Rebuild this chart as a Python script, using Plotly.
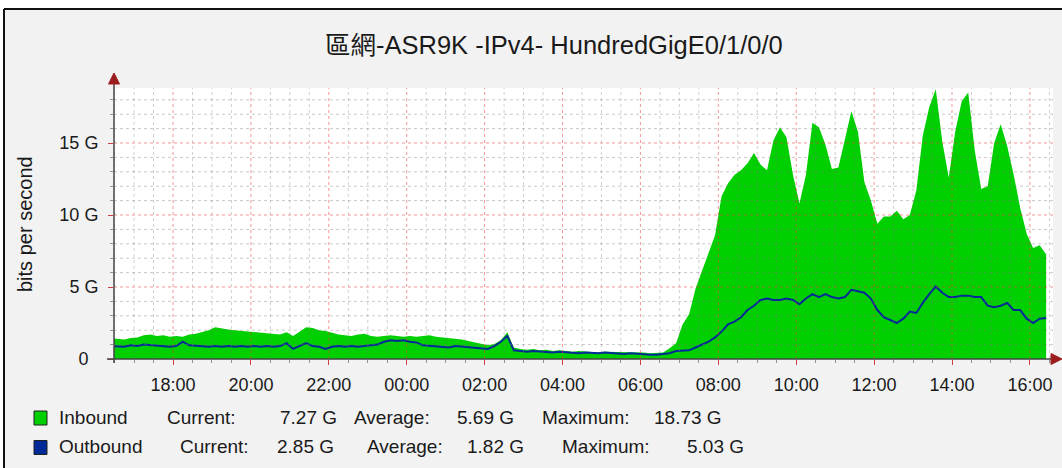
import pandas as pd
import plotly.graph_objects as go

TITLE = "區網-ASR9K -IPv4- HundredGigE0/1/0/0"
Y_TITLE = "bits per second"

sample_start = "2024-01-01 16:25"
sample_count = 145
sample_step = "10min"

inbound_g = [
    1.45, 1.4, 1.35, 1.45, 1.5, 1.65, 1.7, 1.6, 1.65, 1.55,
    1.6, 1.55, 1.7, 1.75, 1.85, 2.0,
    2.2, 2.1, 2.05, 2.0, 1.95, 1.9,
    1.85, 1.8, 1.8, 1.75, 1.7, 1.85,
    1.6, 1.9, 2.2, 2.15, 2.0, 1.95,
    1.8, 1.7, 1.65, 1.6, 1.7, 1.75, 1.6, 1.55, 1.6, 1.65, 1.6, 1.55,
    1.6, 1.55, 1.6, 1.65, 1.55, 1.5, 1.5, 1.45, 1.35, 1.25, 1.15, 1.05,
    0.95, 1.05, 1.3, 1.85, 0.8,
    0.7, 0.65, 0.7, 0.6, 0.65, 0.55, 0.6, 0.55, 0.5, 0.55, 0.5, 0.5, 0.45, 0.5, 0.5, 0.45, 0.5, 0.45, 0.45,
    0.45, 0.4, 0.4, 0.45, 0.75,
    1.1, 2.4, 3.1, 4.9, 6.1, 7.4, 8.6,
    11.3, 12.2, 12.8, 13.1, 13.6, 14.3, 13.5, 13.1, 15.2, 16.1, 15.4, 12.8,
    10.8, 12.8, 16.4, 16.1, 14.9, 13.2, 13.3, 15.2, 17.2, 15.8, 12.3, 11.0,
    9.4, 9.9, 9.9, 10.3, 9.7, 10.0, 11.7, 15.5, 17.5, 18.73, 15.1, 12.6,
    15.8, 17.9, 18.5, 14.5, 11.8, 12.0, 15.0, 16.3, 14.8, 12.8, 10.5, 8.7, 7.7, 7.9, 7.27,
]

outbound_g = [
    0.9, 0.85, 0.85, 0.95, 0.9, 1.0, 0.95, 0.9, 0.85, 0.85,
    0.9, 1.2, 0.95, 0.9, 0.85, 0.85, 0.9, 0.85, 0.9, 0.85, 0.9, 0.85,
    0.9, 0.85, 0.9, 0.85, 0.9, 1.1, 0.7, 0.9, 1.1, 0.9, 0.85, 0.7,
    0.85, 0.9, 0.85, 0.9, 0.85, 0.9, 0.95, 1.0, 1.2, 1.3, 1.25, 1.3,
    1.2, 1.15, 0.95, 0.9, 0.85, 0.85, 0.8, 0.9, 0.85, 0.8, 0.75, 0.7,
    0.7, 0.9, 1.2, 1.6, 0.6,
    0.55, 0.5, 0.55, 0.5, 0.5, 0.45, 0.5, 0.45, 0.45, 0.4, 0.45, 0.4, 0.4, 0.45, 0.4, 0.4, 0.35, 0.4, 0.35,
    0.35, 0.3, 0.3, 0.35, 0.4,
    0.55, 0.55, 0.6, 0.8, 1.0, 1.2, 1.5,
    1.9, 2.4, 2.6, 2.9, 3.4, 3.7, 4.1, 4.2, 4.1, 4.1, 4.2, 4.1,
    3.8, 4.2, 4.5, 4.3, 4.5, 4.3, 4.2, 4.3, 4.8, 4.7, 4.6, 4.2,
    3.4, 2.9, 2.7, 2.5, 2.8, 3.3, 3.2, 3.9, 4.5, 5.03, 4.6, 4.3,
    4.3, 4.4, 4.4, 4.3, 4.3, 3.7, 3.6, 3.7, 3.9, 3.4, 3.4, 2.8, 2.5, 2.8, 2.85,
]

y_tick_vals = [0, 5, 10, 15]
y_tick_text = ["0\u00a0\u00a0", "5 G", "10 G", "15 G"]
y_max = 18.82

x_range = ["2024-01-01 16:29:05", "2024-01-02 16:35:35"]
x_major_tick0 = "2024-01-01 18:00"

legend_names = ["Inbound", "Outbound"]
legend_current = ["7.27 G", "2.85 G"]
legend_average = ["5.69 G", "1.82 G"]
legend_maximum = ["18.73 G", "5.03 G"]

IN_COLOR = "#00CF00"
OUT_COLOR = "#002A97"
BG = "#f2f2f2"
FONT = "Liberation Sans, Arial, Noto Sans CJK TC, sans-serif"
TXT = "#1a1a1a"

times = pd.date_range(sample_start, periods=sample_count, freq=sample_step)

W, H = 1062, 468
L, R, T, B = 114, 9, 88, 109
PW, PH = W - L - R, H - T - B


def px(x):
    return (x - L) / PW


def py(y):
    return (H - B - y) / PH


fig = go.Figure()
fig.add_trace(go.Scatter(x=times, y=inbound_g, mode="lines",
                         line=dict(width=0, color=IN_COLOR),
                         fill="tozeroy", fillcolor=IN_COLOR, hoverinfo="skip"))
fig.add_trace(go.Scatter(x=times, y=outbound_g, mode="lines",
                         line=dict(width=2, color=OUT_COLOR), hoverinfo="skip"))

shapes = []
# white outer strips and black frame
shapes.append(dict(type="rect", xref="paper", yref="paper", x0=px(-10), x1=px(1080),
                   y0=py(8.5), y1=py(-10), fillcolor="white", line=dict(width=0), layer="above"))
shapes.append(dict(type="rect", xref="paper", yref="paper", x0=px(-10), x1=px(3.5),
                   y0=py(490), y1=py(-10), fillcolor="white", line=dict(width=0), layer="above"))
shapes.append(dict(type="line", xref="paper", yref="paper", x0=px(4), x1=px(1080),
                   y0=py(9), y1=py(9), line=dict(color="#111", width=2), layer="above"))
shapes.append(dict(type="line", xref="paper", yref="paper", x0=px(4), x1=px(4),
                   y0=py(9), y1=py(490), line=dict(color="#111", width=2), layer="above"))

# grid (drawn over the area, like rrdtool)
for t in pd.date_range("2024-01-01 16:30", "2024-01-02 16:30", freq="30min"):
    major = t.minute == 0 and t.hour % 2 == 0
    shapes.append(dict(type="line", xref="x", yref="paper", x0=t, x1=t, y0=0, y1=1,
                       line=dict(color="rgba(235,60,60,0.55)" if major else "rgba(120,120,120,0.35)",
                                 width=1, dash="dot"), layer="above"))
for g in range(1, 19):
    major = g % 5 == 0
    shapes.append(dict(type="line", xref="paper", yref="y", x0=0, x1=1, y0=g, y1=g,
                       line=dict(color="rgba(235,60,60,0.55)" if major else "rgba(120,120,120,0.4)",
                                 width=1, dash="dot"), layer="above"))

# axis lines and arrows
shapes.append(dict(type="line", xref="paper", yref="paper", x0=0, x1=0, y0=py(363), y1=py(83),
                   line=dict(color="#444", width=1.5), layer="above"))
shapes.append(dict(type="line", xref="paper", yref="paper", x0=px(107), x1=px(1053), y0=0, y1=0,
                   line=dict(color="#444", width=1.5), layer="above"))
ARROW = "#9a1c1c"
shapes.append(dict(type="path", xref="paper", yref="paper",
                   path=f"M {px(114)} {py(73)} L {px(108.5)} {py(84)} L {px(119.5)} {py(84)} Z",
                   fillcolor=ARROW, line=dict(color=ARROW, width=1), layer="above"))
shapes.append(dict(type="path", xref="paper", yref="paper",
                   path=f"M {px(1062)} {py(359)} L {px(1051)} {py(353.5)} L {px(1051)} {py(364.5)} Z",
                   fillcolor=ARROW, line=dict(color=ARROW, width=1), layer="above"))

# legend squares
for i, col in enumerate([IN_COLOR, OUT_COLOR]):
    y0 = 411 + i * 29.5
    shapes.append(dict(type="rect", xref="paper", yref="paper", x0=px(34), x1=px(47),
                       y0=py(y0 + 14), y1=py(y0), fillcolor=col,
                       line=dict(color="#222", width=1), layer="above"))

annotations = []
annotations.append(dict(text=TITLE, x=px(554), y=py(45), xref="paper", yref="paper",
                        xanchor="center", yanchor="middle", showarrow=False,
                        font=dict(size=25.5, color=TXT, family=FONT)))
annotations.append(dict(text=Y_TITLE, x=px(25), y=py(224), xref="paper", yref="paper",
                        xanchor="center", yanchor="middle", showarrow=False, textangle=-90,
                        font=dict(size=20, color=TXT, family=FONT)))

legend_x = [
    [57, 165, 278, 352, 455, 540, 652],
    [57, 178, 275, 365, 465, 560, 685],
]
for i in range(2):
    yrow = 417 + i * 29.5
    items = [legend_names[i], "Current:", legend_current[i], "Average:", legend_average[i],
             "Maximum:", legend_maximum[i]]
    for xx, txt in zip(legend_x[i], items):
        annotations.append(dict(text=txt, x=px(xx), y=py(yrow), xref="paper", yref="paper",
                                xanchor="left", yanchor="middle", showarrow=False,
                                font=dict(size=19, color=TXT, family=FONT)))

fig.update_layout(
    width=W, height=H,
    margin=dict(l=L, r=R, t=T, b=B, pad=0),
    paper_bgcolor=BG, plot_bgcolor="white",
    showlegend=False, hovermode=False,
    font=dict(family=FONT, color=TXT),
    shapes=shapes, annotations=annotations,
    xaxis=dict(type="date", range=x_range, showgrid=False, zeroline=False, showline=False,
               tickmode="linear", tick0=x_major_tick0, dtick=7200000, tickformat="%H:%M",
               ticks="outside", ticklen=5, tickcolor="#d04040", tickwidth=1,
               minor=dict(tick0=x_major_tick0, dtick=1800000, ticks="outside", ticklen=3,
                          tickcolor="#909090", showgrid=False),
               tickfont=dict(size=18, color=TXT, family=FONT), ticklabelstandoff=4,
               fixedrange=True),
    yaxis=dict(range=[0, y_max], tickmode="array", tickvals=y_tick_vals, ticktext=y_tick_text,
               showgrid=False, zeroline=False, showline=False,
               ticks="outside", ticklen=5, tickcolor="#d04040", tickwidth=1,
               minor=dict(tickmode="linear", tick0=0, dtick=1, ticks="outside", ticklen=3,
                          tickcolor="#909090", showgrid=False),
               tickfont=dict(size=18, color=TXT, family=FONT), ticklabelstandoff=6,
               fixedrange=True),
)

fig.write_html("out.html", config={"staticPlot": True},
               post_script="document.body.style.margin='0';document.body.style.padding='0';")
